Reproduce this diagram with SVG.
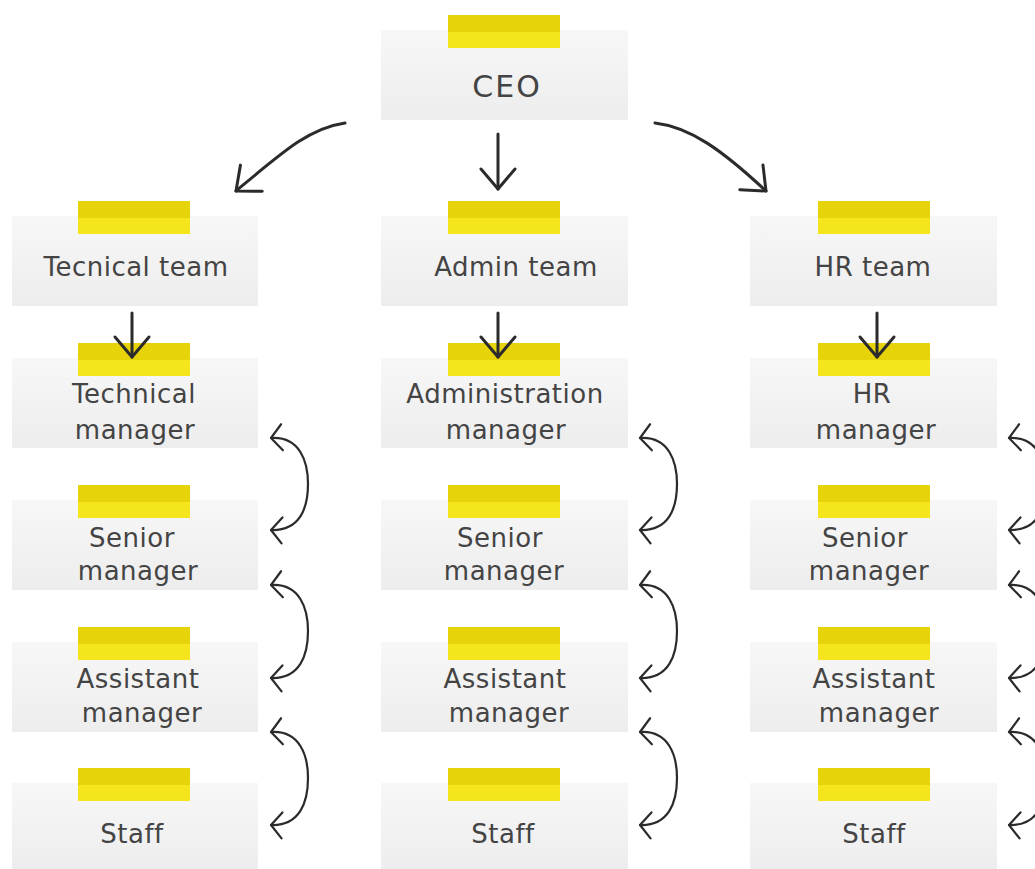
<svg xmlns="http://www.w3.org/2000/svg" width="1035" height="869" viewBox="0 0 1035 869">
<defs>
<linearGradient id="card" x1="0" y1="0" x2="0" y2="1">
<stop offset="0" stop-color="#f7f7f7"/>
<stop offset="1" stop-color="#ededed"/>
</linearGradient>
<marker id="big" markerUnits="userSpaceOnUse" markerWidth="60" markerHeight="60" refX="0" refY="0" orient="auto" overflow="visible">
<path d="M-20,-17 L0,0 L-20,17" fill="none" stroke="#2b2b2b" stroke-width="3" stroke-linecap="round" stroke-linejoin="round"/>
</marker>
<marker id="small" markerUnits="userSpaceOnUse" markerWidth="40" markerHeight="40" refX="0" refY="0" orient="auto-start-reverse" overflow="visible">
<path d="M-11,-13 L0,0 L-11,13" fill="none" stroke="#2b2b2b" stroke-width="2.2" stroke-linecap="round" stroke-linejoin="round"/>
</marker>
</defs>
<style>
.box{fill:url(#card)}
.tapeA{fill:#e6d30a}
.tapeB{fill:#f4e51c}
.t{font-family:"DejaVu Sans","Liberation Sans",sans-serif;font-size:26px;letter-spacing:0.5px;fill:#444444;text-anchor:middle}
.big{fill:none;stroke:#2b2b2b;stroke-width:3;stroke-linecap:round;marker-end:url(#big)}
.dbl{fill:none;stroke:#2b2b2b;stroke-width:2.2;stroke-linecap:round;marker-start:url(#small);marker-end:url(#small)}
</style>
<rect width="1035" height="869" fill="#ffffff"/>

<g id="ceo"><rect class="box" x="381" y="30" width="247" height="90"/><rect class="tapeA" x="448" y="15" width="112" height="17"/><rect class="tapeB" x="448" y="32" width="112" height="16"/><text class="t" x="507" y="97" style="font-size:30px;letter-spacing:2px">CEO</text></g>

<g id="tech-team"><rect class="box" x="12" y="216" width="246" height="90"/><rect class="tapeA" x="78" y="201" width="112" height="17"/><rect class="tapeB" x="78" y="218" width="112" height="16"/><text class="t" x="136" y="276">Tecnical team</text></g>
<g id="admin-team"><rect class="box" x="381" y="216" width="247" height="90"/><rect class="tapeA" x="448" y="201" width="112" height="17"/><rect class="tapeB" x="448" y="218" width="112" height="16"/><text class="t" x="516" y="276">Admin team</text></g>
<g id="hr-team"><rect class="box" x="750" y="216" width="247" height="90"/><rect class="tapeA" x="818" y="201" width="112" height="17"/><rect class="tapeB" x="818" y="218" width="112" height="16"/><text class="t" x="873" y="276">HR team</text></g>

<g id="tech-manager"><rect class="box" x="12" y="358" width="246" height="90"/><rect class="tapeA" x="78" y="343" width="112" height="17"/><rect class="tapeB" x="78" y="360" width="112" height="16"/><text class="t" x="134" y="403">Technical</text><text class="t" x="135" y="439">manager</text></g>
<g id="admin-manager"><rect class="box" x="381" y="358" width="247" height="90"/><rect class="tapeA" x="448" y="343" width="112" height="17"/><rect class="tapeB" x="448" y="360" width="112" height="16"/><text class="t" x="505" y="403">Administration</text><text class="t" x="506" y="439">manager</text></g>
<g id="hr-manager"><rect class="box" x="750" y="358" width="247" height="90"/><rect class="tapeA" x="818" y="343" width="112" height="17"/><rect class="tapeB" x="818" y="360" width="112" height="16"/><text class="t" x="872" y="403">HR</text><text class="t" x="876" y="439">manager</text></g>

<g id="tech-senior"><rect class="box" x="12" y="500" width="246" height="90"/><rect class="tapeA" x="78" y="485" width="112" height="17"/><rect class="tapeB" x="78" y="502" width="112" height="16"/><text class="t" x="132" y="547">Senior</text><text class="t" x="138" y="580">manager</text></g>
<g id="admin-senior"><rect class="box" x="381" y="500" width="247" height="90"/><rect class="tapeA" x="448" y="485" width="112" height="17"/><rect class="tapeB" x="448" y="502" width="112" height="16"/><text class="t" x="500" y="547">Senior</text><text class="t" x="504" y="580">manager</text></g>
<g id="hr-senior"><rect class="box" x="750" y="500" width="247" height="90"/><rect class="tapeA" x="818" y="485" width="112" height="17"/><rect class="tapeB" x="818" y="502" width="112" height="16"/><text class="t" x="865" y="547">Senior</text><text class="t" x="869" y="580">manager</text></g>

<g id="tech-assistant"><rect class="box" x="12" y="642" width="246" height="90"/><rect class="tapeA" x="78" y="627" width="112" height="17"/><rect class="tapeB" x="78" y="644" width="112" height="16"/><text class="t" x="138" y="688">Assistant</text><text class="t" x="142" y="722">manager</text></g>
<g id="admin-assistant"><rect class="box" x="381" y="642" width="247" height="90"/><rect class="tapeA" x="448" y="627" width="112" height="17"/><rect class="tapeB" x="448" y="644" width="112" height="16"/><text class="t" x="505" y="688">Assistant</text><text class="t" x="509" y="722">manager</text></g>
<g id="hr-assistant"><rect class="box" x="750" y="642" width="247" height="90"/><rect class="tapeA" x="818" y="627" width="112" height="17"/><rect class="tapeB" x="818" y="644" width="112" height="16"/><text class="t" x="874" y="688">Assistant</text><text class="t" x="879" y="722">manager</text></g>

<g id="tech-staff"><rect class="box" x="12" y="783" width="246" height="90"/><rect class="tapeA" x="78" y="768" width="112" height="17"/><rect class="tapeB" x="78" y="785" width="112" height="16"/><text class="t" x="132" y="843">Staff</text></g>
<g id="admin-staff"><rect class="box" x="381" y="783" width="247" height="90"/><rect class="tapeA" x="448" y="768" width="112" height="17"/><rect class="tapeB" x="448" y="785" width="112" height="16"/><text class="t" x="503" y="843">Staff</text></g>
<g id="hr-staff"><rect class="box" x="750" y="783" width="247" height="90"/><rect class="tapeA" x="818" y="768" width="112" height="17"/><rect class="tapeB" x="818" y="785" width="112" height="16"/><text class="t" x="874" y="843">Staff</text></g>

<g id="connectors">
<path class="big" d="M345,123 C310,128 285,150 236,191"/>
<path class="big" d="M498,134 L498,189"/>
<path class="big" d="M655,123 C690,127 722,150 766,191"/>
<path class="big" d="M132,313 L132,357"/>
<path class="big" d="M498,313 L498,357"/>
<path class="big" d="M877,313 L877,357"/>
<g id="double-arrows">
<path class="dbl" d="M271,438 C300,436 308,462 308,484 C308,508 300,531 271,530"/>
<path class="dbl" d="M271,585 C300,583 308,609 308,631 C308,655 300,679 271,678"/>
<path class="dbl" d="M271,732 C300,730 308,756 308,778 C308,802 300,826 271,825"/>
<path class="dbl" d="M640,438 C669,436 677,462 677,484 C677,508 669,531 640,530"/>
<path class="dbl" d="M640,585 C669,583 677,609 677,631 C677,655 669,679 640,678"/>
<path class="dbl" d="M640,732 C669,730 677,756 677,778 C677,802 669,826 640,825"/>
<path class="dbl" d="M1009,438 C1038,436 1046,462 1046,484 C1046,508 1038,531 1009,530"/>
<path class="dbl" d="M1009,585 C1038,583 1046,609 1046,631 C1046,655 1038,679 1009,678"/>
<path class="dbl" d="M1009,732 C1038,730 1046,756 1046,778 C1046,802 1038,826 1009,825"/>
</g>
</g>
</svg>
